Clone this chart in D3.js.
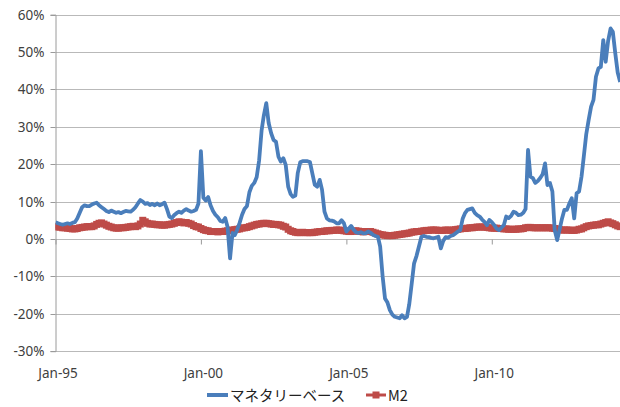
<!DOCTYPE html>
<html>
<head>
<meta charset="utf-8">
<script src="https://cdn.jsdelivr.net/npm/d3@7"></script>
<style>
  body { margin: 0; background: #fff; }
  svg { display: block; }
  .tick text { font-family: "Noto Sans", sans-serif; font-size: 13.5px; fill: #404040; }
  .legend text { font-family: "Noto Sans CJK JP", "Noto Sans", sans-serif; font-size: 14.5px; fill: #222; }
</style>
</head>
<body>
<div id="chart"></div>
<script>
// series names (legend)
var seriesNames = ["マネタリーベース", "M2"];

// y axis ticks, percent
var yTicks = [-30, -20, -10, 0, 10, 20, 30, 40, 50, 60];

// x axis labels, one per 5 years
var xTickYears = [1995, 2000, 2005, 2010];
var xTickLabels = ["Jan-95", "Jan-00", "Jan-05", "Jan-10"];

// first month of the data
var startYear = 1995;

// monetary base, YoY %, monthly from Jan-95
var monetaryBase = [
  4.5, 4.2, 4.0, 3.8, 4.0, 4.2, 4.0, 4.3, 4.5, 5.5, 7.0, 8.5,
  9.0, 8.8, 8.8, 9.2, 9.5, 9.7, 9.0, 8.5, 8.0, 7.5, 7.2, 7.6,
  7.3, 7.0, 7.2, 6.9, 7.2, 7.5, 7.4, 7.3, 7.8, 8.5, 9.5, 10.4,
  10.0, 9.4, 9.6, 9.1, 9.4, 9.0, 9.5, 9.0, 9.3, 9.7, 8.0, 6.0,
  5.6, 6.4, 6.9, 7.3, 7.0, 7.6, 8.0, 7.6, 7.3, 7.5, 7.8, 9.5,
  23.5, 11.0, 10.3, 11.2, 9.0, 7.5, 6.5, 5.8, 4.8, 4.6, 5.6, 3.2,
  -5.2, 1.6, 1.0, 2.5, 4.3, 6.5, 8.0, 8.8, 12.5, 14.2, 15.0, 16.5,
  21.0, 29.0, 33.0, 36.3, 31.0, 28.3, 26.5, 26.0, 22.0, 20.7, 21.6, 19.8,
  14.0, 12.0, 11.3, 11.6, 17.6, 20.5, 20.8, 20.8, 20.8, 20.6, 17.5, 14.5,
  14.0, 15.8, 13.2, 7.3, 5.5, 5.0, 4.9, 4.7, 4.2, 4.2, 5.0, 4.2,
  2.0, 2.8, 3.5, 2.5, 1.8, 1.6, 1.8, 1.5, 1.6, 2.0, 1.7, 1.1,
  0.8, 0.6, -2.0, -10.0, -15.9, -17.0, -19.0, -20.2, -20.8, -21.0, -21.2, -20.4,
  -21.2, -20.8, -17.5, -12.0, -6.5, -4.5, -2.0, 0.6, 0.8, 0.6, 0.5, 0.3,
  0.2, 0.4, 0.6, -2.5, -0.5, 0.5, 0.4, 0.8, 1.0, 1.5, 2.0, 2.4,
  5.5, 7.0, 7.8, 8.0, 8.2, 7.0, 6.4, 6.0, 5.2, 4.6, 3.7, 5.1,
  4.5, 3.7, 2.8, 2.4, 3.0, 3.7, 6.0, 5.6, 6.2, 7.3, 7.0, 6.4,
  6.5, 7.0, 8.0, 23.8, 16.7, 16.3, 15.0, 15.5, 16.3, 17.3, 20.2, 14.4,
  15.0, 12.7, 2.4, -0.3, 2.5, 5.5, 7.8, 7.8, 9.5, 10.9, 5.5, 12.2,
  12.7, 16.7, 22.0, 28.0, 31.8, 35.4, 37.2, 43.4, 45.6, 46.0, 53.2, 47.4,
  53.0, 56.3, 55.4, 49.6, 44.5, 42.0
];

// M2, YoY %, monthly from Jan-95
var m2 = [
  3.3, 3.2, 3.2, 3.0, 3.0, 2.9, 2.8, 2.7, 2.7, 2.8, 3.0, 3.1,
  3.2, 3.3, 3.3, 3.3, 3.5, 3.9, 4.2, 4.3, 4.0, 3.7, 3.4, 3.2,
  3.0, 2.9, 2.9, 3.0, 3.0, 3.1, 3.2, 3.3, 3.4, 3.3, 3.5, 4.0,
  5.0, 4.6, 4.2, 4.0, 4.0, 3.9, 3.8, 3.8, 3.7, 3.7, 3.8, 3.9,
  4.0, 4.2, 4.4, 4.6, 4.5, 4.3, 4.4, 4.2, 4.0, 3.6, 3.3, 3.2,
  2.8, 2.5, 2.3, 2.2, 2.0, 2.0, 2.0, 1.9, 2.0, 2.0, 2.1, 2.2,
  2.3, 2.4, 2.5, 2.6, 2.7, 2.9, 3.0, 3.1, 3.3, 3.5, 3.7, 3.9,
  4.0, 4.1, 4.2, 4.2, 4.1, 4.0, 3.9, 3.9, 3.8, 3.7, 3.4, 3.2,
  2.6, 2.2, 2.0, 1.8, 1.7, 1.7, 1.8, 1.7, 1.7, 1.7, 1.7, 1.8,
  1.9, 2.0, 2.0, 2.1, 2.2, 2.2, 2.3, 2.3, 2.4, 2.4, 2.3, 2.2,
  2.1, 2.0, 2.0, 2.1, 2.2, 2.1, 2.0, 1.9, 2.0, 2.0, 2.0, 1.8,
  1.6, 1.4, 1.2, 1.1, 1.0, 0.9, 0.9, 0.9, 1.0, 1.1, 1.2, 1.3,
  1.4, 1.5, 1.6, 1.8, 1.9, 2.0, 2.0, 2.1, 2.2, 2.3, 2.3, 2.4,
  2.4, 2.4, 2.3, 2.3, 2.3, 2.4, 2.4, 2.3, 2.4, 2.5, 2.6, 2.7,
  2.8, 2.8, 2.9, 3.0, 3.0, 3.1, 3.2, 3.2, 3.2, 3.2, 3.1, 3.0,
  2.9, 2.9, 2.9, 2.8, 2.8, 2.7, 2.7, 2.6, 2.6, 2.6, 2.6, 2.7,
  2.7, 2.8, 3.0, 3.1, 3.1, 3.0, 3.0, 3.0, 3.0, 3.0, 3.0, 3.0,
  3.0, 2.9, 2.8, 2.7, 2.5, 2.4, 2.4, 2.4, 2.4, 2.3, 2.3, 2.4,
  2.6, 2.7, 3.0, 3.3, 3.5, 3.6, 3.7, 3.8, 3.8, 4.0, 4.2, 4.4,
  4.6, 4.3, 4.1, 3.8, 3.5, 3.3
];

// #############################################################
// CANVAS
// #############################################################
var width = 620, height = 407;
var plot = {left: 55.5, top: 14.6, bottom: 351.2, right: 620};

var svg = d3.select("#chart")
  .append("svg")
    .attr("width", width)
    .attr("height", height);

// dates for each month
var months = monetaryBase.map((d, i) => new Date(startYear, i, 1));

// Excel style date axis; right edge runs past the picture
var xScale = d3.scaleTime()
    .domain([new Date(1995, 0, 1), new Date(2015, 0, 1)])
    .range([plot.left, 637.2]);

var yScale = d3.scaleLinear()
    .domain([-30, 60])
    .range([plot.bottom, plot.top]);

// gridlines
svg.append("g")
    .selectAll("line")
    .data(yTicks)
    .enter()
    .append("line")
      .attr("x1", plot.left)
      .attr("x2", plot.right)
      .attr("y1", d => Math.round(yScale(d)) + 0.5)
      .attr("y2", d => Math.round(yScale(d)) + 0.5)
      .attr("stroke", "#b9b9b9")
      .attr("stroke-width", 1);

// y axis
var yAxis = d3.axisLeft(yScale)
    .tickValues(yTicks)
    .tickSize(5)
    .tickPadding(6)
    .tickFormat(d => d + "%");

var gy = svg.append("g")
    .attr("transform", "translate(" + plot.left + ",0)")
    .call(yAxis);
gy.selectAll("line").attr("stroke", "#9a9a9a");
gy.selectAll(".tick").attr("transform", d => "translate(0," + (Math.round(yScale(d)) + 0.5) + ")");
gy.select(".domain").attr("stroke", "#9a9a9a");

// x ticks sit on the 0% line, labels at the bottom
var zeroY = Math.round(yScale(0)) + 0.5;
var xTickDates = xTickYears.map(y => new Date(y, 0, 1));

var gx = svg.append("g")
    .attr("transform", "translate(0," + zeroY + ")")
    .call(d3.axisBottom(xScale).tickValues(xTickDates).tickSize(5).tickFormat(""));
gx.select(".domain").remove();
gx.selectAll("line").attr("stroke", "#9a9a9a");

svg.append("g")
    .selectAll("text")
    .data(xTickDates)
    .enter()
    .append("text")
      .attr("x", d => xScale(d) + 2.5)
      .attr("y", 378)
      .attr("text-anchor", "middle")
      .style("font-family", "'Noto Sans', sans-serif")
      .style("font-size", "13.5px")
      .style("fill", "#404040")
      .text((d, i) => xTickLabels[i]);

// clip to plot
svg.append("clipPath")
    .attr("id", "clip")
  .append("rect")
    .attr("x", plot.left)
    .attr("y", 0)
    .attr("width", plot.right - plot.left)
    .attr("height", height);

var line = d3.line()
    .x((d, i) => xScale(months[i]))
    .y(d => yScale(d));

var gLines = svg.append("g").attr("clip-path", "url(#clip)");

// M2 with square markers
gLines.append("path")
    .datum(m2)
    .attr("d", line)
    .attr("fill", "none")
    .attr("stroke", "#be4b48")
    .attr("stroke-width", 3);

gLines.selectAll(".m2dot")
    .data(m2)
    .enter()
    .append("rect")
      .attr("class", "m2dot")
      .attr("x", (d, i) => xScale(months[i]) - 3.5)
      .attr("y", d => yScale(d) - 3.5)
      .attr("width", 7)
      .attr("height", 7)
      .attr("fill", "#be4b48");

// monetary base
gLines.append("path")
    .datum(monetaryBase)
    .attr("d", line)
    .attr("fill", "none")
    .attr("stroke", "#4a7ebb")
    .attr("stroke-width", 3.8)
    .attr("stroke-linejoin", "round");

// legend
var legend = svg.append("g").attr("class", "legend");
legend.append("line")
    .attr("x1", 207).attr("x2", 228)
    .attr("y1", 395).attr("y2", 395)
    .attr("stroke", "#4a7ebb").attr("stroke-width", 4);
legend.append("text")
    .attr("x", 230).attr("y", 400.5)
    .text(seriesNames[0]);
legend.append("line")
    .attr("x1", 366).attr("x2", 386)
    .attr("y1", 395).attr("y2", 395)
    .attr("stroke", "#be4b48").attr("stroke-width", 3);
legend.append("rect")
    .attr("x", 372.5).attr("y", 391.5)
    .attr("width", 7).attr("height", 7)
    .attr("fill", "#be4b48");
legend.append("text")
    .attr("x", 388).attr("y", 400.5)
    .text(seriesNames[1]);
</script>
</body>
</html>
